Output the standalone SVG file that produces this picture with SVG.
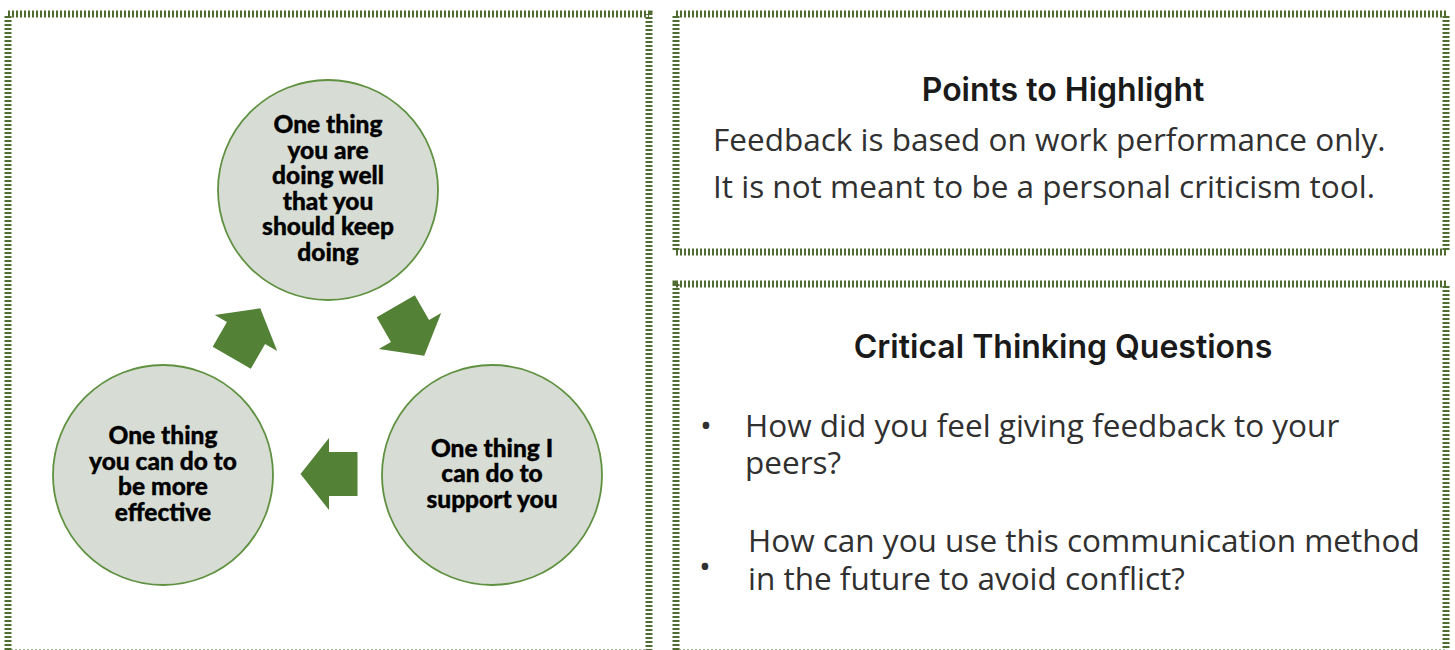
<svg xmlns="http://www.w3.org/2000/svg" width="1455" height="650" viewBox="0 0 1455 650">
<defs>
<style>
.panel{fill:#ffffff;stroke:#4f6d31;stroke-width:7;stroke-dasharray:2 2}
.circle{fill:#d7ddd4;stroke:#5f9140;stroke-width:1.8}
.arrow{fill:#538135}
.ctext{font-family:Lato,"Liberation Sans",sans-serif;font-weight:900;font-size:24.5px;fill:#000;stroke:#000;stroke-width:0.35;text-anchor:middle}
.head{font-family:Inter,"Liberation Sans",sans-serif;font-weight:600;font-size:32px;fill:#1a1a1a;text-anchor:middle}
.body{font-family:"Open Sans","Liberation Sans",sans-serif;font-size:31.5px;fill:#303030}
</style>
<path id="arr" d="M-28.5,-22 H0 V-36 L28.5,0 L0,36 V22 H-28.5 Z"/>
</defs>
<rect width="1455" height="650" fill="#ffffff"/>
<g id="panel-left"><rect class="panel" x="8" y="14" width="641" height="639"/></g>
<g id="panel-highlight">
<rect class="panel" x="676" y="14" width="770" height="238"/>
<text class="head" x="1063" y="101">Points to Highlight</text>
<text class="body" x="713" y="151">Feedback is based on work performance only.</text>
<text class="body" x="713" y="198">It is not meant to be a personal criticism tool.</text>
</g>
<g id="panel-questions">
<rect class="panel" x="676" y="284" width="770" height="369"/>
<text class="head" x="1063" y="358">Critical Thinking Questions</text>
<text class="body" x="700" y="437">•</text>
<text class="body" x="745" y="437">How did you feel giving feedback to your</text>
<text class="body" x="745" y="474">peers?</text>
<text class="body" x="699" y="578">•</text>
<text class="body" x="748" y="552">How can you use this communication method</text>
<text class="body" x="748" y="590">in the future to avoid conflict?</text>
</g>
<g id="node-top">
<circle class="circle" cx="328" cy="190" r="110"/>
<text class="ctext" x="328" y="133">One thing</text>
<text class="ctext" x="328" y="159">you are</text>
<text class="ctext" x="328" y="184">doing well</text>
<text class="ctext" x="328" y="210">that you</text>
<text class="ctext" x="328" y="235">should keep</text>
<text class="ctext" x="328" y="261">doing</text>
</g>
<g id="node-right">
<circle class="circle" cx="492" cy="475" r="110"/>
<text class="ctext" x="492" y="457">One thing I</text>
<text class="ctext" x="492" y="482">can do to</text>
<text class="ctext" x="492" y="508">support you</text>
</g>
<g id="node-left">
<circle class="circle" cx="163" cy="475" r="110"/>
<text class="ctext" x="163" y="444">One thing</text>
<text class="ctext" x="163" y="470">you can do to</text>
<text class="ctext" x="163" y="495">be more</text>
<text class="ctext" x="163" y="521">effective</text>
</g>
<g id="connectors">
<use href="#arr" class="arrow" transform="translate(410,331) rotate(60)"/>
<use href="#arr" class="arrow" transform="translate(329,474) rotate(180)"/>
<use href="#arr" class="arrow" transform="translate(246,333) rotate(-60)"/>
</g>
</svg>
